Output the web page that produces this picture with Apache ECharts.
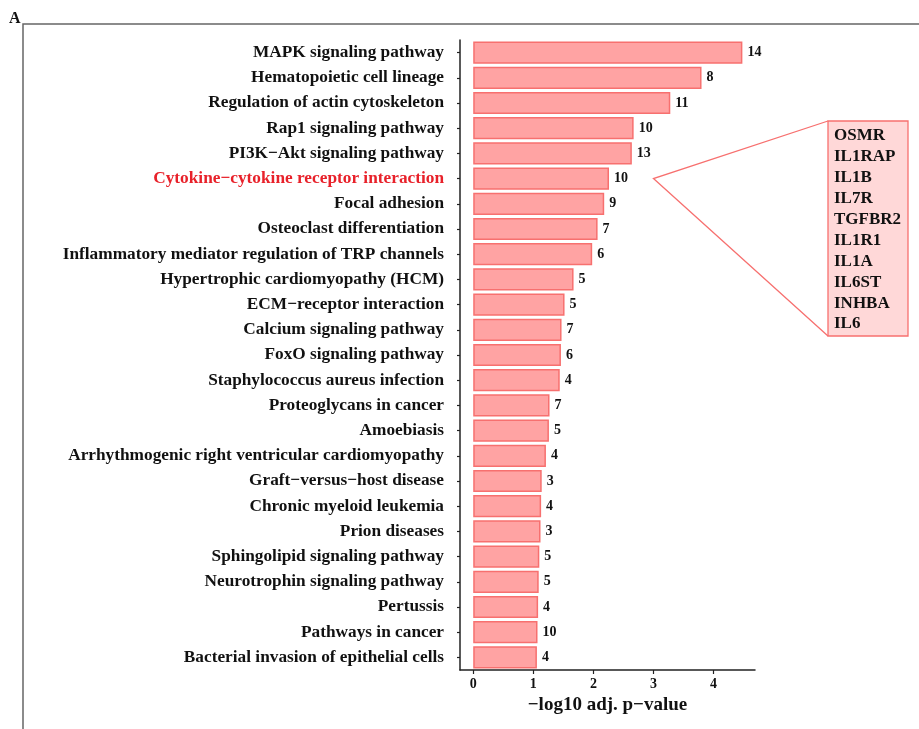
<!DOCTYPE html>
<html>
<head>
<meta charset="utf-8">
<script src="https://cdn.jsdelivr.net/npm/echarts@6/dist/echarts.min.js"></script>
<style>
  html, body { margin: 0; padding: 0; background: #fff; }
  #chart { width: 919px; height: 729px; }
</style>
</head>
<body>
<div id="chart"></div>
<script>
// KEGG pathway enrichment: pathway names (top to bottom), -log10 adjusted p-values, gene counts
const pathways = [
  'MAPK signaling pathway',
  'Hematopoietic cell lineage',
  'Regulation of actin cytoskeleton',
  'Rap1 signaling pathway',
  'PI3K\u2212Akt signaling pathway',
  'Cytokine\u2212cytokine receptor interaction',
  'Focal adhesion',
  'Osteoclast differentiation',
  'Inflammatory mediator regulation of TRP channels',
  'Hypertrophic cardiomyopathy (HCM)',
  'ECM\u2212receptor interaction',
  'Calcium signaling pathway',
  'FoxO signaling pathway',
  'Staphylococcus aureus infection',
  'Proteoglycans in cancer',
  'Amoebiasis',
  'Arrhythmogenic right ventricular cardiomyopathy',
  'Graft\u2212versus\u2212host disease',
  'Chronic myeloid leukemia',
  'Prion diseases',
  'Sphingolipid signaling pathway',
  'Neurotrophin signaling pathway',
  'Pertussis',
  'Pathways in cancer',
  'Bacterial invasion of epithelial cells'
];
const negLogP = [4.48, 3.80, 3.28, 2.67, 2.64, 2.26, 2.18, 2.07, 1.98, 1.67,
                 1.52, 1.47, 1.46, 1.44, 1.27, 1.26, 1.21, 1.14, 1.13, 1.12,
                 1.10, 1.09, 1.08, 1.07, 1.06];
const geneCounts = [14, 8, 11, 10, 13, 10, 9, 7, 6, 5,
                    5, 7, 6, 4, 7, 5, 4, 3, 4, 3,
                    5, 5, 4, 10, 4];
const xTicks = [0, 1, 2, 3, 4];
const highlighted = 'Cytokine\u2212cytokine receptor interaction';
const highlightGenes = ['OSMR', 'IL1RAP', 'IL1B', 'IL7R', 'TGFBR2', 'IL1R1', 'IL1A', 'IL6ST', 'INHBA', 'IL6'];

const SERIF = '"Liberation Serif", "Times New Roman", serif';
const FILL = '#ffa3a3';
const EDGE = '#f7706f';

const chart = echarts.init(document.getElementById('chart'), null, { renderer: 'canvas' });

const categoryData = pathways.map(p => p === highlighted
  ? { value: p, textStyle: { color: '#e8212a' } }
  : p);

const option = {
  backgroundColor: '#fff',
  animation: false,
  grid: { left: 460, right: 164, top: 40, bottom: 59, containLabel: false },
  xAxis: {
    type: 'value',
    min: -0.22,
    max: 4.69,
    name: '\u2212log10 adj. p\u2212value',
    nameLocation: 'middle',
    nameGap: 25,
    nameTextStyle: { fontFamily: SERIF, fontWeight: 'bold', fontSize: 19, color: '#111' },
    splitLine: { show: false },
    axisLine: { show: true, lineStyle: { color: '#222', width: 1.5 } },
    axisTick: { show: true, customValues: xTicks, length: 4, lineStyle: { color: '#222', width: 1.2 } },
    axisLabel: {
      customValues: xTicks,
      margin: 7,
      fontFamily: SERIF, fontWeight: 'bold', fontSize: 14, color: '#111'
    }
  },
  yAxis: {
    type: 'category',
    data: categoryData,
    inverse: true,
    axisLine: { show: true, onZero: false, lineStyle: { color: '#222', width: 1.5 } },
    axisTick: { show: true, alignWithLabel: true, length: 3, lineStyle: { color: '#222', width: 1.2 } },
    axisLabel: {
      margin: 16,
      fontFamily: SERIF, fontWeight: 'bold', fontSize: 17.3, color: '#111'
    }
  },
  series: [{
    type: 'bar',
    data: negLogP,
    barCategoryGap: '12%',
    itemStyle: { color: FILL, borderColor: EDGE, borderWidth: 1.5 },
    label: {
      show: true,
      position: 'right',
      distance: 5,
      formatter: p => geneCounts[p.dataIndex],
      fontFamily: SERIF, fontWeight: 'bold', fontSize: 14, color: '#111'
    }
  }]
};
chart.setOption(option);

// Panel frame, panel letter and gene callout for the highlighted pathway
function drawOverlay() {
  const apex = chart.convertToPixel({ gridIndex: 0 }, [3.0, highlighted]);
  const box = { x: 828, y: 121, w: 80, h: 215 };
  const lineH = 20.9;
  const geneTexts = highlightGenes.map((g, i) => ({
    type: 'text',
    x: box.x + 6,
    y: box.y + 15 + i * lineH,
    style: {
      text: g,
      fontFamily: SERIF, fontWeight: 'bold', fontSize: 17,
      fill: '#111', verticalAlign: 'middle', align: 'left'
    },
    z: 12
  }));
  chart.setOption({
    graphic: [
      { type: 'polyline', shape: { points: [[23, 729], [23, 24], [919, 24]] },
        style: { stroke: '#666', lineWidth: 1.5, fill: null }, z: 5 },
      { type: 'text', x: 9, y: 19, style: { text: 'A', fontFamily: SERIF, fontWeight: 'bold', fontSize: 16, fill: '#111', verticalAlign: 'middle' } },
      { type: 'polyline', shape: { points: [[box.x, box.y], apex, [box.x, box.y + box.h]] },
        style: { stroke: EDGE, lineWidth: 1.3, fill: null }, z: 10 },
      { type: 'rect', shape: { x: box.x, y: box.y, width: box.w, height: box.h },
        style: { fill: '#ffd8d8', stroke: EDGE, lineWidth: 1.3 }, z: 11 }
    ].concat(geneTexts)
  });
}
drawOverlay();
</script>
</body>
</html>
